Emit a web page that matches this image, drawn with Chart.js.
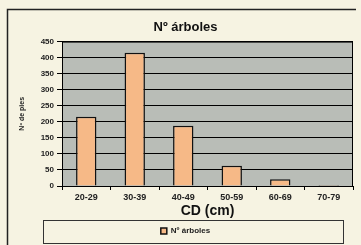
<!DOCTYPE html>
<html>
<head>
<meta charset="utf-8">
<script src="https://cdn.jsdelivr.net/npm/chart.js@4.4.1/dist/chart.umd.min.js"></script>
<style>
  html, body { margin: 0; padding: 0; background: #f6f3e2; }
  #wrap { width: 361px; height: 245px; }
</style>
</head>
<body>
<div id="wrap"><canvas id="grafico" width="361" height="245"></canvas></div>
<script>
// clases diamétricas y número de árboles
const clases = ['20-29', '30-39', '40-49', '50-59', '60-69', '70-79'];
const arboles = [216, 415, 188, 63, 21, 3];
const ticksY = [0, 50, 100, 150, 200, 250, 300, 350, 400, 450];

// fondo, marco exterior, fondo gris del área y caja de la leyenda
const marcoPlugin = {
    id: 'marco',
    beforeDraw(chart) {
        const ctx = chart.ctx;
        const a = chart.chartArea;
        ctx.save();
        ctx.fillStyle = '#f6f3e2';
        ctx.fillRect(0, 0, chart.width, chart.height);
        ctx.fillStyle = '#b9bdb7';
        ctx.fillRect(a.left, a.top, a.right - a.left, a.bottom - a.top);
        // marco exterior (izquierda y arriba)
        ctx.strokeStyle = '#222';
        ctx.lineWidth = 1.5;
        ctx.beginPath();
        ctx.moveTo(7.5, 245);
        ctx.lineTo(7.5, 9.5);
        ctx.lineTo(356, 9.5);
        ctx.stroke();
        ctx.restore();
    },
    afterDraw(chart) {
        const ctx = chart.ctx;
        const a = chart.chartArea;
        const lg = chart.legend;
        ctx.save();
        ctx.strokeStyle = '#000';
        ctx.lineWidth = 1;
        ctx.strokeRect(a.left + 0.5, a.top + 0.5, a.right - a.left - 1, a.bottom - a.top);
        if (lg) {
            ctx.strokeStyle = '#333';
            ctx.strokeRect(43.5, lg.top + 0.5, 300, lg.height - 2);
        }
        ctx.restore();
    }
};

new Chart(document.getElementById('grafico'), {
    type: 'bar',
    data: {
        labels: clases,
        datasets: [{
            label: 'Nº árboles',
            data: arboles,
            backgroundColor: '#f6b987',
            borderColor: '#111',
            borderWidth: 1.5,
            categoryPercentage: 1,
            barPercentage: 0.42
        }]
    },
    options: {
        responsive: false,
        animation: false,
        layout: { padding: { left: 18, right: 8, top: 14, bottom: 0 } },
        plugins: {
            title: {
                display: true,
                text: 'Nº árboles',
                color: '#111',
                font: { family: 'Liberation Sans', size: 13, weight: 'bold' },
                padding: { top: 6, bottom: 6 }
            },
            legend: {
                position: 'bottom',
                labels: {
                    color: '#222',
                    font: { family: 'Liberation Sans', size: 8, weight: 'bold' },
                    boxWidth: 6,
                    boxHeight: 6,
                    padding: 7
                }
            },
            tooltip: { enabled: false }
        },
        scales: {
            x: {
                offset: true,
                afterFit(axis) { axis.height = 34; },
                grid: { offset: true, drawOnChartArea: false, color: '#000', tickLength: 4 },
                border: { color: '#000' },
                ticks: {
                    color: '#222',
                    font: { family: 'Liberation Sans', size: 9, weight: 'bold' },
                    padding: 2,
                    maxRotation: 0
                },
                title: {
                    display: true,
                    text: 'CD (cm)',
                    color: '#111',
                    font: { family: 'Liberation Sans', size: 14, weight: 'bold' },
                    padding: { top: 0, bottom: 0 }
                }
            },
            y: {
                min: 0,
                max: 450,
                afterFit(axis) { axis.width = 44; },
                afterBuildTicks(axis) {
                    axis.ticks = ticksY.map(v => ({ value: v }));
                },
                grid: { color: '#000', tickLength: 5 },
                border: { color: '#000' },
                ticks: {
                    color: '#222',
                    font: { family: 'Liberation Sans', size: 8, weight: 'bold' },
                    padding: 3
                },
                title: {
                    display: true,
                    text: 'Nº de pies',
                    color: '#222',
                    font: { family: 'Liberation Sans', size: 7, weight: 'bold' },
                    padding: { top: 0, bottom: 0 }
                }
            }
        }
    },
    plugins: [marcoPlugin]
});
</script>
</body>
</html>
